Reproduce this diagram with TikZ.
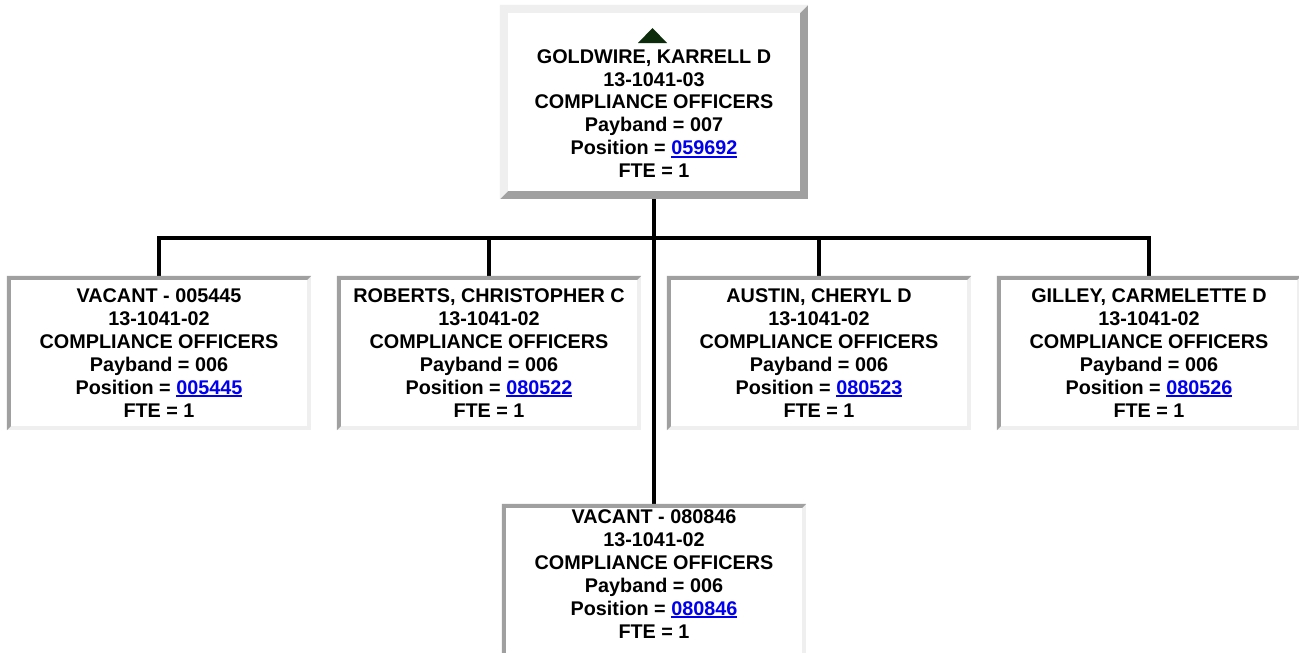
\documentclass[tikz,border=0pt]{standalone}
\usepackage{fontspec}
\setmainfont{Liberation Sans}
\usetikzlibrary{calc}
\definecolor{lightg}{RGB}{239,239,239}
\definecolor{darkg}{RGB}{160,160,160}
\definecolor{linkblue}{RGB}{0,0,238}
\definecolor{arrowgreen}{RGB}{12,44,12}
\newcommand\lnk[1]{{\color{linkblue}\setbox0\hbox{#1}\rlap{\rule[-2.6pt]{\wd0}{1.7pt}}\box0}}
% #1 node name, #2 border width, #3 top/left colour, #4 bottom/right colour
\newcommand\bevelbox[4]{%
  \fill[#4] (#1.south west) rectangle (#1.north east);
  \fill[#3] (#1.south west) -- (#1.north west) -- (#1.north east)
     -- ([xshift=-#2,yshift=-#2]#1.north east) -- ([xshift=#2,yshift=-#2]#1.north west)
     -- ([xshift=#2,yshift=#2]#1.south west) -- cycle;
  \fill[white] ([xshift=#2,yshift=#2]#1.south west) rectangle ([xshift=-#2,yshift=-#2]#1.north east);
}
\begin{document}
\begin{tikzpicture}[x=1pt,y=-1pt,
  cardbox/.style={rectangle, inner sep=0pt, minimum width=304pt, minimum height=154pt},
  topcard/.style={rectangle, inner sep=0pt, minimum width=308pt, minimum height=194pt},
  txt/.style={inner sep=0pt, anchor=base, font=\fontsize{19.8}{23}\selectfont\bfseries},
  conn/.style={line width=4pt, black}]
\useasboundingbox (0,0) rectangle (1299,653);
\clip (0,0) rectangle (1299,653);
\fill[white] (0,0) rectangle (1299,653);
% box placeholders
\node[topcard] (top) at (654,102) {};
\node[cardbox] (c1) at (159,353) {};
\node[cardbox] (c2) at (489,353) {};
\node[cardbox] (c3) at (819,353) {};
\node[cardbox] (c4) at (1149,353) {};
\node[cardbox] (c5) at (654,581) {};
% connectors
\coordinate (bus) at (654,238);
\draw[conn] (top.south) -- (c5.north);
\draw[conn] (c1.north) -- (c1.north |- bus) -- (c4.north |- bus) -- (c4.north);
\draw[conn] (c2.north) -- (c2.north |- bus);
\draw[conn] (c3.north) -- (c3.north |- bus);
% borders
\bevelbox{top}{8pt}{lightg}{darkg}
\bevelbox{c1}{4pt}{darkg}{lightg}
\bevelbox{c2}{4pt}{darkg}{lightg}
\bevelbox{c3}{4pt}{darkg}{lightg}
\bevelbox{c4}{4pt}{darkg}{lightg}
\bevelbox{c5}{4pt}{darkg}{lightg}
% up arrow
\fill[arrowgreen] (638,43) -- (652.5,28) -- (667,43) -- cycle;
% texts
\node[txt] (t0) at (654,63) {\begin{tabular}[t]{@{}c@{}}GOLDWIRE, KARRELL D\\13-1041-03\\COMPLIANCE OFFICERS\\Payband = 007\\Position = \lnk{059692}\\FTE = 1\end{tabular}};
\node[txt] (t1) at (159,302) {\begin{tabular}[t]{@{}c@{}}VACANT - 005445\\13-1041-02\\COMPLIANCE OFFICERS\\Payband = 006\\Position = \lnk{005445}\\FTE = 1\end{tabular}};
\node[txt] (t2) at (489,302) {\begin{tabular}[t]{@{}c@{}}ROBERTS, CHRISTOPHER C\\13-1041-02\\COMPLIANCE OFFICERS\\Payband = 006\\Position = \lnk{080522}\\FTE = 1\end{tabular}};
\node[txt] (t3) at (819,302) {\begin{tabular}[t]{@{}c@{}}AUSTIN, CHERYL D\\13-1041-02\\COMPLIANCE OFFICERS\\Payband = 006\\Position = \lnk{080523}\\FTE = 1\end{tabular}};
\node[txt] (t4) at (1149,302) {\begin{tabular}[t]{@{}c@{}}GILLEY, CARMELETTE D\\13-1041-02\\COMPLIANCE OFFICERS\\Payband = 006\\Position = \lnk{080526}\\FTE = 1\end{tabular}};
\node[txt] (t5) at (654,523) {\begin{tabular}[t]{@{}c@{}}VACANT - 080846\\13-1041-02\\COMPLIANCE OFFICERS\\Payband = 006\\Position = \lnk{080846}\\FTE = 1\end{tabular}};
\end{tikzpicture}
\end{document}
